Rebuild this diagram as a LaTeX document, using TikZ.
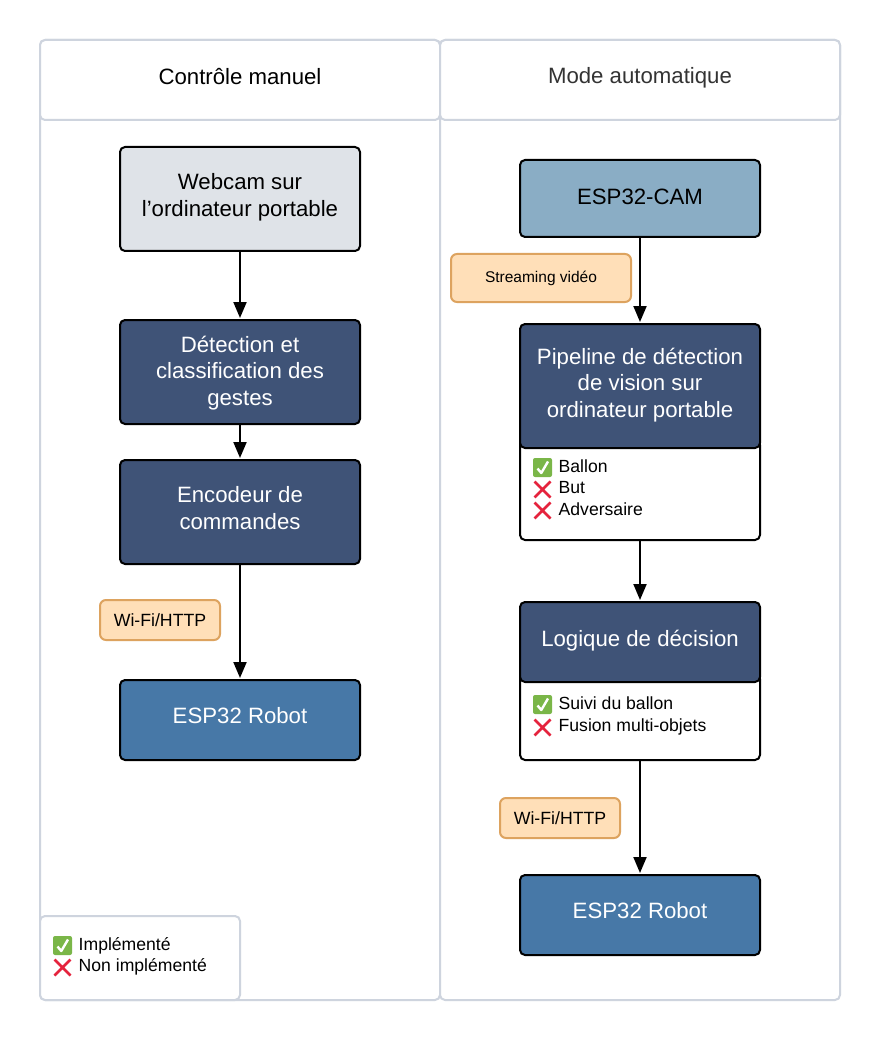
\documentclass[tikz,border=0pt]{standalone}
\usepackage{fontspec}
\setmainfont{Liberation Sans}
\usetikzlibrary{arrows.meta,positioning}
\definecolor{lane}{HTML}{CED4DE}
\definecolor{navy}{HTML}{3F5377}
\definecolor{blue}{HTML}{4778A7}
\definecolor{steel}{HTML}{8AADC5}
\definecolor{pale}{HTML}{DFE3E8}
\definecolor{peach}{HTML}{FFDFB8}
\definecolor{peachline}{HTML}{DDA35F}
\definecolor{okgreen}{HTML}{7AB648}
\definecolor{nored}{HTML}{E5233D}
\newcommand{\fs}[1]{\fontsize{#1pt}{#1pt}\selectfont}
\tikzset{
  x=1pt,y=-1pt,
  panel/.style={draw=lane,line width=2pt,fill=white,rounded corners=5pt,anchor=north west,inner sep=0pt,font=\fs{22.2},text=#1},
  panel/.default=black,
  flow/.style={draw=black,line width=2pt,rounded corners=5pt,anchor=north west,inner sep=0pt,align=center,font=\fs{22.2},fill=#1},
  tag/.style={draw=peachline,line width=2pt,fill=peach,rounded corners=6pt,anchor=north west,inner sep=0pt,align=center},
  item/.style={anchor=west,inner sep=0pt,font=\fs{17.6}},
  link/.style={draw=black,line width=2pt,-{Triangle[length=16pt,width=13pt]},shorten >=1pt},
  pics/okmark/.style={code={
    \fill[okgreen,rounded corners=2pt] (-9.5,-9.5) rectangle (9.5,9.5);
    \draw[white,line width=2.4pt,line join=round] (-5,1) -- (-1.2,5.5) -- (5.5,-6);
  }},
  pics/nomark/.style={code={
    \draw[nored,line width=2.6pt] (-8,-8) -- (8,8) (-8,8) -- (8,-8);
  }},
}
\begin{document}
\begin{tikzpicture}
\useasboundingbox[fill=white] (1,1) rectangle (881,1041);
% lanes
\node[panel,minimum width=400pt,minimum height=960pt] (laneL) at (40,40) {};
\node[panel,minimum width=400pt,minimum height=960pt] (laneR) at (440,40) {};
\node[panel,minimum width=400pt,minimum height=80pt,text depth=7.5pt] (headL) at (40,40) {Contrôle manuel};
\node[panel=black!80!white,minimum width=400pt,minimum height=80pt,text depth=8.2pt] (headR) at (440,40) {Mode automatique};
% left column
\node[flow=pale,minimum width=240pt,minimum height=104pt,text depth=8.7pt] (cam) at (120,147) {Webcam sur\\[4.6pt]l’ordinateur portable};
\node[flow=navy,text=white,minimum width=240pt,minimum height=104pt,text depth=2.7pt] (detect) at (120,320) {Détection et\\[4.6pt]classification des\\[4.6pt]gestes};
\node[flow=navy,text=white,minimum width=240pt,minimum height=104pt,text depth=7.3pt] (enc) at (120,460) {Encodeur de\\[4.6pt]commandes};
\node[flow=blue,text=white,minimum width=240pt,minimum height=80pt,text depth=8.7pt] (robotL) at (120,680) {ESP32 Robot};
\node[tag,minimum width=120pt,minimum height=40pt,font=\fs{17.7}] (wifiL) at (100,600) {Wi-Fi/HTTP};
% right column
\node[flow=steel,minimum width=240pt,minimum height=77pt,text depth=4.3pt] (espcam) at (520,160) {ESP32-CAM};
\node[tag,minimum width=180pt,minimum height=48pt,font=\fs{15.5}] (stream) at (451,254) {Streaming vidéo};
\node[flow=white,minimum width=240pt,minimum height=100pt] (pipeBody) at (520,440) {};
\node[flow=navy,text=white,minimum width=240pt,minimum height=124pt,text depth=6.7pt] (pipe) at (520,324) {Pipeline de détection\\[4.6pt]de vision sur\\[4.6pt]ordinateur portable};
\pic at (543.5,468.5) {okmark};
\node[item] (t1) at (559.5,467.5) {Ballon};
\pic at (543.5,490.5) {nomark};
\node[item] (t2) at (559.5,489) {But};
\pic at (543.5,511.5) {nomark};
\node[item] (t3) at (559.5,510.5) {Adversaire};
\node[flow=white,minimum width=240pt,minimum height=86pt] (logicBody) at (520,674) {};
\node[flow=navy,text=white,minimum width=240pt,minimum height=80pt,text depth=7.7pt] (logic) at (520,602) {Logique de décision};
\pic at (543.5,705.5) {okmark};
\node[item] (t4) at (559.5,704.5) {Suivi du ballon};
\pic at (543.5,728.5) {nomark};
\node[item] (t5) at (559.5,728) {Fusion multi-objets};
\node[tag,minimum width=120pt,minimum height=40pt,font=\fs{17.7}] (wifiR) at (500,798) {Wi-Fi/HTTP};
\node[flow=blue,text=white,minimum width=240pt,minimum height=80pt,text depth=8.7pt] (robotR) at (520,875) {ESP32 Robot};
% legend
\node[panel,minimum width=200pt,minimum height=84pt] (legend) at (40,916) {};
\pic at (63.5,946.5) {okmark};
\node[item] (l1) at (79.5,946.5) {Implémenté};
\pic at (63.5,968.5) {nomark};
\node[item] (l2) at (79.5,968) {Non implémenté};
% connectors
\draw[link] (cam) -- (detect);
\draw[link] (detect) -- (enc);
\draw[link] (enc) -- (robotL);
\draw[link] (espcam) -- (pipe);
\draw[link] (pipeBody) -- (logic);
\draw[link] (logicBody) -- (robotR);
\end{tikzpicture}
\end{document}
